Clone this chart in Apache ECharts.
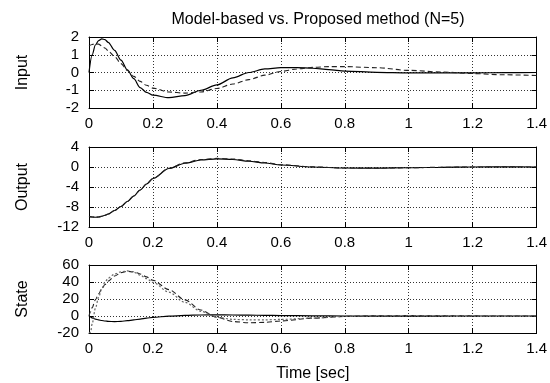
<!DOCTYPE html>
<html>
<head>
<meta charset="utf-8">
<script src="https://cdn.jsdelivr.net/npm/echarts@6/dist/echarts.min.js"></script>
<style>html,body{margin:0;padding:0;background:#fff}#c{width:550px;height:383px}</style>
</head>
<body>
<div id="c"></div>
<script>
// ---- data ----
const titleText = 'Model-based vs. Proposed method (N=5)';
const panelNames = ['Input', 'Output', 'State'];
const xLabelName = 'Time [sec]';

const inputTime = [0, 0.01, 0.02, 0.03, 0.04, 0.05, 0.06, 0.08, 0.1, 0.12, 0.14, 0.16, 0.18, 0.2, 0.25, 0.3, 0.35, 0.4, 0.45, 0.5, 0.55, 0.6, 0.65, 0.7, 0.75, 0.8, 0.9, 1.0, 1.1, 1.2, 1.3, 1.4];
const inputModel = [0, 1.0, 1.55, 1.8, 1.9, 1.85, 1.7, 1.25, 0.7, 0.15, -0.35, -0.85, -1.12, -1.28, -1.42, -1.3, -1.0, -0.7, -0.3, 0.0, 0.2, 0.27, 0.28, 0.24, 0.16, 0.08, 0.01, -0.02, -0.02, -0.02, -0.01, 0];
const inputProposed = [1.5, 1.58, 1.62, 1.6, 1.5, 1.38, 1.22, 0.9, 0.5, 0.12, -0.22, -0.5, -0.72, -0.88, -1.1, -1.16, -1.1, -0.9, -0.65, -0.4, -0.15, 0.06, 0.2, 0.29, 0.33, 0.33, 0.27, 0.12, 0.03, -0.06, -0.13, -0.17];

const outputTime = [0, 0.01, 0.02, 0.03, 0.04, 0.05, 0.06, 0.08, 0.1, 0.12, 0.14, 0.16, 0.18, 0.2, 0.25, 0.3, 0.35, 0.4, 0.45, 0.5, 0.55, 0.6, 0.7, 0.8, 0.9, 1.0, 1.1, 1.2, 1.3, 1.4];
const outputModel = [-9.9, -10.0, -10.05, -10.0, -9.85, -9.65, -9.4, -8.7, -7.9, -6.9, -5.8, -4.6, -3.4, -2.3, -0.3, 0.75, 1.4, 1.62, 1.5, 1.15, 0.8, 0.4, 0.0, -0.2, -0.22, -0.15, -0.06, 0.0, 0.02, 0.0];
const outputProposed = [-9.9, -10.0, -10.05, -10.0, -9.85, -9.65, -9.4, -8.7, -7.9, -6.9, -5.8, -4.6, -3.4, -2.3, -0.25, 0.85, 1.5, 1.72, 1.6, 1.25, 0.9, 0.45, 0.02, -0.2, -0.22, -0.15, -0.06, 0.0, 0.02, 0.0];

const stateTime = [0, 0.005, 0.01, 0.02, 0.03, 0.04, 0.05, 0.06, 0.08, 0.1, 0.12, 0.14, 0.16, 0.18, 0.2, 0.25, 0.3, 0.35, 0.4, 0.45, 0.5, 0.55, 0.6, 0.7, 0.8, 0.9, 1.0, 1.1, 1.2, 1.3, 1.4];
const stateSolid = [0, -1.2, -2.2, -3.6, -4.6, -5.3, -5.9, -6.3, -6.6, -6.3, -5.5, -4.6, -3.6, -2.6, -1.6, -0.2, 0.7, 1.2, 1.3, 1.2, 1.0, 0.8, 0.5, 0.2, 0.0, -0.1, -0.1, -0.05, 0.0, 0.0, 0.0];
const stateDashed = [0, 5, 10, 19, 26, 32, 37, 41, 47, 51, 52.5, 52, 49.5, 46, 42, 31, 19, 7, -1.5, -6.5, -8, -7.5, -5.8, -2.5, -0.5, 0.3, 0.4, 0.3, 0.1, 0, 0];
const stateDotted = [-20, -19, -9, 9, 22, 32, 40, 44.5, 49.5, 52, 53, 51.5, 48, 44, 39.5, 28, 16, 5.5, -1.5, -4, -4.5, -4.5, -4, -2.5, -0.5, 0, 0.3, 0.2, 0.1, 0, 0];

const xTicks = [0, 0.2, 0.4, 0.6, 0.8, 1.0, 1.2, 1.4];
const yRanges = [[-2, 2, 1], [-12, 4, 4], [-20, 60, 20]];

// ---- layout ----
const gridBoxes = [
  {top: 37, height: 71},
  {top: 147, height: 80},
  {top: 265, height: 73}
];
const FONT = '"Liberation Sans", Arial, sans-serif';

const grids = [], xAxes = [], yAxes = [], series = [];
function pairs(t, v) { return t.map((x, i) => [x, v[i]]); }

gridBoxes.forEach((b, i) => {
  grids.push({left: 89, right: 13, top: b.top, height: b.height, show: false});
  const tickStyle = {show: true, inside: true, length: 5, lineStyle: {color: '#000', width: 1}};
  const axisLineStyle = {show: true, onZero: false, lineStyle: {color: '#000', width: 1}};
  xAxes.push({
    type: 'value', gridIndex: i, position: 'bottom', min: xTicks[0], max: xTicks[xTicks.length - 1], interval: 0.2,
    axisLine: axisLineStyle, axisTick: tickStyle,
    axisLabel: {color: '#000', fontSize: 15, fontFamily: FONT, margin: 8},
    splitLine: {show: true, lineStyle: {color: '#333', type: [1, 2], width: 1}},
    name: i === 2 ? xLabelName : '', nameLocation: 'middle', nameGap: 33,
    nameTextStyle: {color: '#000', fontSize: 16, fontFamily: FONT}
  });
  xAxes.push({
    type: 'value', gridIndex: i, position: 'top', min: xTicks[0], max: xTicks[xTicks.length - 1], interval: 0.2,
    axisLine: axisLineStyle, axisTick: tickStyle, axisLabel: {show: false}, splitLine: {show: false}
  });
  const r = yRanges[i];
  yAxes.push({
    type: 'value', gridIndex: i, position: 'left', min: r[0], max: r[1], interval: r[2],
    axisLine: axisLineStyle, axisTick: tickStyle,
    axisLabel: {color: '#000', fontSize: 15, fontFamily: FONT, margin: 10},
    splitLine: {show: true, lineStyle: {color: '#333', type: [1, 2], width: 1}},
    name: panelNames[i], nameLocation: 'middle', nameGap: 58, nameRotate: 90,
    nameTextStyle: {color: '#000', fontSize: 16, fontFamily: FONT}
  });
  yAxes.push({
    type: 'value', gridIndex: i, position: 'right', min: r[0], max: r[1], interval: r[2],
    axisLine: axisLineStyle, axisTick: tickStyle, axisLabel: {show: false}, splitLine: {show: false}
  });
});

function line(idx, data, style) {
  return {
    type: 'line', xAxisIndex: idx * 2, yAxisIndex: idx * 2, data: data,
    showSymbol: false, smooth: 0.3, smoothMonotone: 'x', silent: true, animation: false,
    lineStyle: style, z: 3
  };
}
const solid = {color: '#000', width: 1.2, type: 'solid'};
const dashed = {color: '#222', width: 1.1, type: [5, 3]};
const dotted = {color: '#666', width: 1.2, type: [2, 2]};

series.push(line(0, pairs(inputTime, inputModel), solid));
series.push(line(0, pairs(inputTime, inputProposed), dashed));
series.push(line(1, pairs(outputTime, outputModel), solid));
series.push(line(1, pairs(outputTime, outputProposed), dashed));
series.push(line(2, pairs(stateTime, stateSolid), solid));
series.push(line(2, pairs(stateTime, stateDashed), dashed));
series.push(line(2, pairs(stateTime, stateDotted), dotted));

const chart = echarts.init(document.getElementById('c'), null, {renderer: 'canvas'});
chart.setOption({
  animation: false,
  backgroundColor: '#fff',
  title: {text: titleText, left: 313, top: 7, textAlign: 'center',
    textStyle: {color: '#000', fontSize: 16, fontWeight: 'normal', fontFamily: FONT}},
  grid: grids, xAxis: xAxes, yAxis: yAxes, series: series
});
</script>
</body>
</html>
